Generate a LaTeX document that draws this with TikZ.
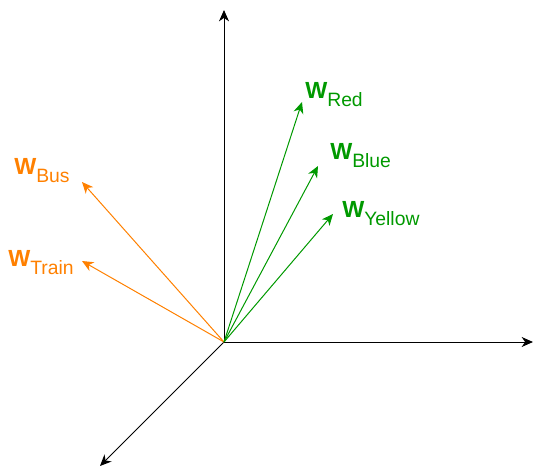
\documentclass[tikz,border=0pt]{standalone}
\usepackage{fontspec}
\setmainfont{Liberation Sans}
\usetikzlibrary{arrows.meta}
\definecolor{vorange}{HTML}{FF8000}
\definecolor{vgreen}{HTML}{009900}
\newcommand{\wvec}[1]{{\fontsize{17.5}{19}\selectfont\bfseries W}\raisebox{-5.6pt}{\fontsize{14.5}{16}\selectfont #1}}
\tikzset{vec/.style={line width=0.75pt,-{Stealth[length=8.5pt,width=7.5pt,inset=2.6pt]}}}

\begin{document}
\begin{tikzpicture}[x=0.75pt,y=-0.75pt]
  \useasboundingbox (0,0) rectangle (533,467);
  \coordinate (o) at (224,342);
  \coordinate (up) at (224,10);
  \coordinate (right) at (533,342);
  \coordinate (down) at (100,466);
  \coordinate (bus) at (82,182);
  \coordinate (train) at (82,261);
  \coordinate (red) at (302,102);
  \coordinate (blue) at (318,166);
  \coordinate (yellow) at (333,214);
  \draw[vec] (o) -- (up);
  \draw[vec] (o) -- (right);
  \draw[vec] (o) -- (down);
  \draw[vec,vorange] (o) -- (bus);
  \draw[vec,vorange] (o) -- (train);
  \draw[vec,vgreen] (o) -- (red);
  \draw[vec,vgreen] (o) -- (blue);
  \draw[vec,vgreen] (o) -- (yellow);
  \node[anchor=base west,inner sep=0pt,text=vorange] (lbus) at (14,175) {\wvec{Bus}};
  \node[anchor=base west,inner sep=0pt,text=vorange] (ltrain) at (8,267) {\wvec{Train}};
  \node[anchor=base west,inner sep=0pt,text=vgreen] (lred) at (305,99) {\wvec{Red}};
  \node[anchor=base west,inner sep=0pt,text=vgreen] (lblue) at (330,160) {\wvec{Blue}};
  \node[anchor=base west,inner sep=0pt,text=vgreen] (lyellow) at (342,218) {\wvec{Yellow}};
\end{tikzpicture}
\end{document}
